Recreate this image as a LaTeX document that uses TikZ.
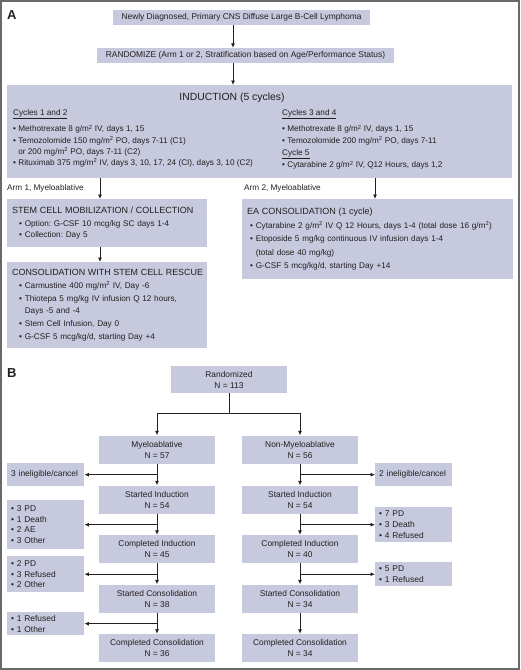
\documentclass[tikz,border=0pt]{standalone}
\usepackage{fontspec}
\setmainfont{Liberation Sans}
\usetikzlibrary{arrows.meta}
\frenchspacing

\definecolor{boxfill}{RGB}{199,201,222}
\definecolor{ink}{RGB}{35,31,32}
\definecolor{framegray}{RGB}{105,105,105}

\newcommand{\sq}{\textsuperscript{2}}
\newcommand{\bul}{\hspace*{7pt}\textbullet\ }
\newcommand{\cnt}{\hspace*{7pt}\phantom{\textbullet\ }}

\tikzset{
	every node/.style={text=ink},
	box/.style={fill=boxfill, anchor=north west, inner xsep=5pt, inner ysep=0pt,
		align=left, font=\fontsize{8.2}{12.8}\selectfont},
	bar/.style={fill=boxfill, inner sep=0pt, font=\fontsize{8.4}{10}\selectfont},
	flow/.style={fill=boxfill, inner sep=0pt, minimum width=116pt, minimum height=28pt,
		align=center, font=\fontsize{8.4}{11}\selectfont},
	side/.style={fill=boxfill, anchor=north west, inner xsep=4pt, inner ysep=0pt,
		text width=69pt, align=left, font=\fontsize{8.4}{10.7}\selectfont},
	lbl/.style={anchor=west, inner sep=0pt, font=\fontsize{8.2}{10}\selectfont},
	arr/.style={draw=ink, line width=0.8pt, -{Latex[length=4.5pt,width=4pt]}},
}

\begin{document}
\begin{tikzpicture}[x=1pt, y=-1pt]
	\useasboundingbox (0,0) rectangle (520,670);
	\draw [framegray, line width=1.2pt] (1,1) rectangle (519,669);

	% panel A
	\node [anchor=base west, inner sep=0pt, font=\bfseries\fontsize{13}{13}\selectfont] (labA) at (7,19) {A};

	\node [bar, minimum width=257pt, minimum height=15pt] (newly) at (241.5,17.5)
		{Newly Diagnosed, Primary CNS Diffuse Large B-Cell Lymphoma};
	\node [bar, minimum width=297pt, minimum height=15pt] (rand) at (245.5,55.5)
		{RANDOMIZE (Arm 1 or 2, Stratification based on Age/Performance Status)};

	\node [fill=boxfill, anchor=north west, inner sep=0pt, minimum width=505pt, minimum height=93pt] (induct) at (7,85) {};
	\node [inner sep=0pt, font=\fontsize{10.4}{12}\selectfont] (indtitle) at (232,97.5) {INDUCTION (5 cycles)};

	\node [anchor=north west, inner sep=0pt, align=left, font=\fontsize{8.2}{11.2}\selectfont] (cycA) at (13,109)
		{\underline{Cycles 1 and 2}\\[5.5pt]
		\textbullet\ Methotrexate 8 g/m\sq\ IV, days 1, 15\\
		\textbullet\ Temozolomide 150 mg/m\sq\ PO, days 7-11 (C1)\\
		\phantom{\textbullet\ }or 200 mg/m\sq\ PO, days 7-11 (C2)\\
		\textbullet\ Rituximab 375 mg/m\sq\ IV, days 3, 10, 17, 24 (CI), days 3, 10 (C2)};

	\node [anchor=north west, inner sep=0pt, align=left, font=\fontsize{8.2}{11.2}\selectfont] (cycB) at (282,109)
		{\underline{Cycles 3 and 4}\\[5.5pt]
		\textbullet\ Methotrexate 8 g/m\sq\ IV, days 1, 15\\
		\textbullet\ Temozolomide 200 mg/m\sq\ PO, days 7-11\\[1pt]
		\underline{Cycle 5}\\[1.5pt]
		\textbullet\ Cytarabine 2 g/m\sq\ IV, Q12 Hours, days 1,2};

	\node [lbl] (arm1) at (7,188) {Arm 1, Myeloablative};
	\node [lbl] (arm2) at (244,188) {Arm 2, Myeloablative};

	\node [box, text width=190pt, minimum height=48pt, font=\fontsize{8.2}{11.5}\selectfont] (stem) at (7,199)
		{\mbox{\fontsize{9}{11.5}\selectfont STEM CELL MOBILIZATION / COLLECTION}\\[1.5pt]
		\bul Option: G-CSF 10 mcg/kg SC days 1-4\\
		\bul Collection: Day 5};

	\node [box, text width=190pt, minimum height=86pt] (consol) at (7,262)
		{\mbox{\fontsize{8.9}{12.8}\selectfont CONSOLIDATION WITH STEM CELL RESCUE}\\
		\bul Carmustine 400 mg/m\sq\ IV, Day -6\\
		\bul Thiotepa 5 mg/kg IV infusion Q 12 hours,\\
		\cnt Days -5 and -4\\
		\bul Stem Cell Infusion, Day 0\\
		\bul G-CSF 5 mcg/kg/d, starting Day +4};

	\node [box, text width=261pt, minimum height=80pt, font=\fontsize{8.2}{13.4}\selectfont] (ea) at (242,199)
		{\mbox{\fontsize{9}{13.4}\selectfont EA CONSOLIDATION (1 cycle)}\\
		\mbox{\hspace*{3pt}\textbullet\ Cytarabine 2 g/m\sq\ IV Q 12 Hours, days 1-4 (total dose 16 g/m\sq)}\\
		\hspace*{3pt}\textbullet\ Etoposide 5 mg/kg continuous IV infusion days 1-4\\
		\hspace*{3pt}\phantom{\textbullet\ }(total dose 40 mg/kg)\\
		\hspace*{3pt}\textbullet\ G-CSF 5 mcg/kg/d, starting Day +14};

	\coordinate (ax) at (233,0);
	\coordinate (a1) at (100,0);
	\coordinate (a2) at (375,0);
	\draw [arr] (newly.south -| ax) -- (rand.north -| ax);
	\draw [arr] (rand.south -| ax) -- (induct.north -| ax);
	\draw [arr] (induct.south -| a1) -- (stem.north -| a1);
	\draw [arr] (stem.south -| a1) -- (consol.north -| a1);
	\draw [arr] (induct.south -| a2) -- (ea.north -| a2);

	% panel B
	\node [anchor=base west, inner sep=0pt, font=\bfseries\fontsize{13}{13}\selectfont] (labB) at (7,377) {B};

	\node [flow, minimum height=27pt] (rnd) at (229,379.5) {Randomized\\N = 113};

	\node [flow] (myelo) at (157,449.5) {Myeloablative\\N = 57};
	\node [flow] (sindL) at (157,499.5) {Started Induction\\N = 54};
	\node [flow] (cindL) at (157,549) {Completed Induction\\N = 45};
	\node [flow] (sconL) at (157,598.5) {Started Consolidation\\N = 38};
	\node [flow] (cconL) at (157,648) {Completed Consolidation\\N = 36};

	\node [flow] (nonmy) at (300,449.5) {Non-Myeloablative\\N = 56};
	\node [flow] (sindR) at (300,499.5) {Started Induction\\N = 54};
	\node [flow] (cindR) at (300,549) {Completed Induction\\N = 40};
	\node [flow] (sconR) at (300,598.5) {Started Consolidation\\N = 34};
	\node [flow] (cconR) at (300,648) {Completed Consolidation\\N = 34};

	\node [side, minimum height=23pt] (inelL) at (7,463) {3 ineligible/cancel};
	\node [side, minimum height=49pt] (offL1) at (7,500) {\textbullet\ 3 PD\\\textbullet\ 1 Death\\\textbullet\ 2 AE\\\textbullet\ 3 Other};
	\node [side, minimum height=36pt] (offL2) at (7,556) {\textbullet\ 2 PD\\\textbullet\ 3 Refused\\\textbullet\ 2 Other};
	\node [side, minimum height=23pt] (offL3) at (7,612) {\textbullet\ 1 Refused\\\textbullet\ 1 Other};

	\node [side, minimum height=23pt] (inelR) at (375,463) {2 ineligible/cancel};
	\node [side, minimum height=35pt] (offR1) at (375,507) {\textbullet\ 7 PD\\\textbullet\ 3 Death\\\textbullet\ 4 Refused};
	\node [side, minimum height=24pt] (offR2) at (375,562) {\textbullet\ 5 PD\\\textbullet\ 1 Refused};

	\draw [draw=ink, line width=0.8pt] (rnd.south) -- ++(0,20) coordinate (split);
	\draw [arr] (split) -| (myelo.north);
	\draw [arr] (split) -| (nonmy.north);

	\draw [arr] (myelo.south) -- (sindL.north);
	\draw [arr] (sindL.south) -- (cindL.north);
	\draw [arr] (cindL.south) -- (sconL.north);
	\draw [arr] (sconL.south) -- (cconL.north);
	\draw [arr] (myelo.south |- inelL.east) -- (inelL.east);
	\draw [arr] (sindL.south |- offL1.east) -- (offL1.east);
	\draw [arr] (cindL.south |- offL2.east) -- (offL2.east);
	\draw [arr] (sconL.south |- offL3.east) -- (offL3.east);

	\draw [arr] (nonmy.south) -- (sindR.north);
	\draw [arr] (sindR.south) -- (cindR.north);
	\draw [arr] (cindR.south) -- (sconR.north);
	\draw [arr] (sconR.south) -- (cconR.north);
	\draw [arr] (nonmy.south |- inelR.west) -- (inelR.west);
	\draw [arr] (sindR.south |- offR1.west) -- (offR1.west);
	\draw [arr] (cindR.south |- offR2.west) -- (offR2.west);
\end{tikzpicture}
\end{document}
